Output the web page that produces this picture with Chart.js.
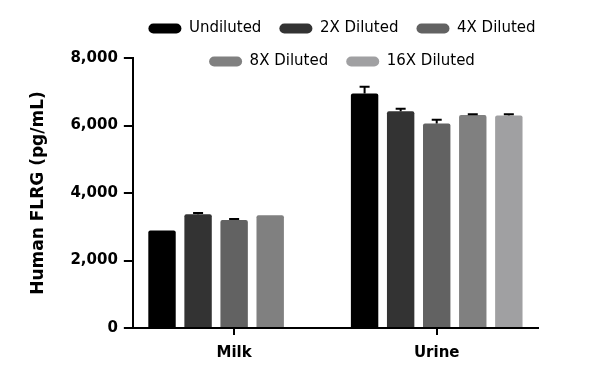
<!DOCTYPE html>
<html>
<head>
<meta charset="utf-8">
<script src="https://cdn.jsdelivr.net/npm/chart.js@4"></script>
<style>
  html, body { margin: 0; padding: 0; background: #fff; }
  #wrap { width: 600px; height: 385px; }
</style>
</head>
<body>
<div id="wrap"><canvas id="myChart" width="600" height="385"></canvas></div>
<script>
// categories and series
const categories = ['Milk', 'Urine'];
const seriesNames = ['Undiluted', '2X Diluted', '4X Diluted', '8X Diluted', '16X Diluted'];
const seriesColors = ['#000000', '#333333', '#626262', '#808080', '#a0a0a2'];

const undiluted = [2890, 6950];
const diluted2x = [3370, 6420];
const diluted4x = [3200, 6060];
const diluted8x = [3340, 6310];
const diluted16x = [null, 6300];

// upper error (SD) per series
const errUndiluted = [0, 200];
const err2x = [40, 80];
const err4x = [30, 110];
const err8x = [0, 25];
const err16x = [null, 35];

const yTicks = [0, 2000, 4000, 6000, 8000];

const seriesValues = [undiluted, diluted2x, diluted4x, diluted8x, diluted16x];
const seriesErrors = [errUndiluted, err2x, err4x, err8x, err16x];

// draws the upward error bars with a cap
const errorBars = {
  id: 'errorBars',
  afterDatasetsDraw(chart) {
    const ctx = chart.ctx;
    const yScale = chart.scales.y;
    ctx.save();
    ctx.strokeStyle = '#000';
    ctx.lineWidth = 2;
    chart.data.datasets.forEach((ds, i) => {
      const meta = chart.getDatasetMeta(i);
      meta.data.forEach((bar, j) => {
        const v = ds.data[j];
        const e = ds.errors[j];
        if (v == null || !e) return;
        const top = yScale.getPixelForValue(v + e);
        ctx.beginPath();
        ctx.moveTo(bar.x, bar.y);
        ctx.lineTo(bar.x, top);
        ctx.moveTo(bar.x - 5, top);
        ctx.lineTo(bar.x + 5, top);
        ctx.stroke();
      });
    });
    ctx.restore();
  }
};

// move the legend over the plot, like the original figure
const legendShift = {
  id: 'legendShift',
  afterLayout(chart) {
    const lg = chart.legend;
    const dx = 342 - (lg.left + lg.right) / 2;
    lg.left += dx;
    lg.right += dx;
    lg.top = 3;
    lg.bottom = 80; // room for the second row
  }
};

const ctx = document.getElementById('myChart').getContext('2d');

const chart = new Chart(ctx, {
  type: 'bar',
  data: {
    labels: categories,
    datasets: seriesNames.map((name, i) => ({
      label: name,
      data: seriesValues[i],
      errors: seriesErrors[i],
      backgroundColor: seriesColors[i],
      borderWidth: 0,
      borderRadius: 2,
      borderSkipped: 'bottom',
      categoryPercentage: 0.89,
      barPercentage: 0.76
    }))
  },
  options: {
    responsive: false,
    animation: false,
    layout: { padding: { left: 24, right: 62, top: 8, bottom: 14 } },
    plugins: {
      legend: {
        display: true,
        position: 'top',
        maxHeight: 50,
        labels: {
          boxWidth: 33,
          boxHeight: 10,
          padding: 18,
          color: '#000',
          font: { family: 'DejaVu Sans', size: 15 },
          useBorderRadius: true,
          borderRadius: 5,
          generateLabels(chart) {
            return chart.data.datasets.map((ds, i) => ({
              text: ds.label,
              fillStyle: ds.backgroundColor,
              strokeStyle: ds.backgroundColor,
              lineWidth: 0,
              borderRadius: 5,
              datasetIndex: i
            }));
          }
        }
      },
      tooltip: { enabled: false }
    },
    scales: {
      x: {
        grid: { display: true, drawOnChartArea: false, offset: false, color: '#000', lineWidth: 2, tickLength: 7 },
        border: { color: '#000', width: 2 },
        ticks: { color: '#000', font: { family: 'DejaVu Sans', size: 15, weight: 'bold' }, padding: 9 }
      },
      y: {
        min: 0,
        max: 8000,
        afterBuildTicks(axis) { axis.ticks = yTicks.map(v => ({ value: v })); },
        grid: { display: true, drawOnChartArea: false, color: '#000', lineWidth: 2, tickLength: 9 },
        border: { color: '#000', width: 2 },
        ticks: {
          color: '#000',
          padding: 6,
          font: { family: 'DejaVu Sans', size: 15, weight: 'bold' },
          callback: v => v.toLocaleString('en-US')
        },
        title: {
          display: true,
          text: 'Human FLRG (pg/mL)',
          color: '#000',
          font: { family: 'DejaVu Sans', size: 17, weight: 'bold' },
          padding: { bottom: 16 }
        }
      }
    }
  },
  plugins: [errorBars, legendShift]
});
</script>
</body>
</html>
